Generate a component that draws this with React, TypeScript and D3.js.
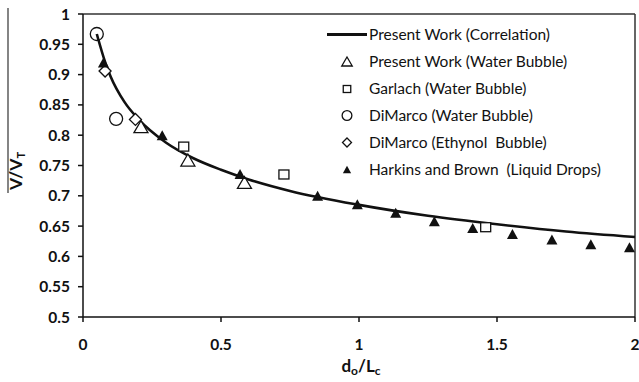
import React from "react";
import * as d3 from "d3";

// Correlation curve, V/VT against do/Lc
const correlationX = [0.05, 0.08, 0.1, 0.15, 0.2, 0.3, 0.4, 0.5, 0.6, 0.75, 1.0, 1.25, 1.5, 1.75, 2.0];
const correlationY = [0.967, 0.921, 0.897, 0.855, 0.827, 0.788, 0.762, 0.743, 0.727, 0.708, 0.685, 0.667, 0.653, 0.641, 0.632];

// Present Work (Water Bubble)
const presentX = [0.21, 0.38, 0.585];
const presentY = [0.814, 0.759, 0.722];

// Garlach (Water Bubble)
const garlachX = [0.365, 0.728, 1.459];
const garlachY = [0.782, 0.736, 0.649];

// DiMarco (Water Bubble)
const dimarcoWaterX = [0.05, 0.12];
const dimarcoWaterY = [0.967, 0.827];

// DiMarco (Ethynol Bubble)
const dimarcoEthX = [0.08, 0.19];
const dimarcoEthY = [0.906, 0.826];

// Harkins and Brown (Liquid Drops)
const harkinsX = [0.074, 0.287, 0.569, 0.85, 0.994, 1.133, 1.273, 1.412, 1.556, 1.699, 1.84, 1.98];
const harkinsY = [0.92, 0.8, 0.736, 0.7, 0.686, 0.672, 0.658, 0.647, 0.637, 0.628, 0.62, 0.615];

const xTicks = [0, 0.5, 1, 1.5, 2];
const yTicks = [0.5, 0.55, 0.6, 0.65, 0.7, 0.75, 0.8, 0.85, 0.9, 0.95, 1];

const legendLabels = [
  "Present Work (Correlation)",
  "Present Work (Water Bubble)",
  "Garlach (Water Bubble)",
  "DiMarco (Water Bubble)",
  "DiMarco (Ethynol  Bubble)",
  "Harkins and Brown  (Liquid Drops)",
];

const W = 639;
const H = 382;
const left = 83;
const right = 635;
const top = 14;
const bottom = 317;

const FONT = "Lato, 'Open Sans', sans-serif";
const INK = "#111";

type Kind = "tri" | "square" | "circle" | "diamond" | "filledTri";

function Marker({ kind, x, y, s = 1 }: { kind: Kind; x: number; y: number; s?: number }) {
  const sw = 1.3;
  switch (kind) {
    case "tri": {
      const w = 7 * s, h = 12 * s;
      return (
        <path
          d={`M${x},${y - h / 2}L${x + w},${y + h / 2}L${x - w},${y + h / 2}Z`}
          fill="#fff"
          stroke={INK}
          strokeWidth={sw}
        />
      );
    }
    case "filledTri": {
      const w = 5.5 * s, h = 10 * s;
      return <path d={`M${x},${y - h / 2}L${x + w},${y + h / 2}L${x - w},${y + h / 2}Z`} fill={INK} />;
    }
    case "square": {
      const a = 5 * s;
      return <rect x={x - a} y={y - a * 0.8} width={a * 2} height={a * 1.6 + 1} fill="#fff" stroke={INK} strokeWidth={sw} />;
    }
    case "circle":
      return <circle cx={x} cy={y} r={6.5 * s} fill="none" stroke={INK} strokeWidth={sw} />;
    case "diamond": {
      const a = 6 * s;
      return (
        <path d={`M${x},${y - a}L${x + a},${y}L${x},${y + a}L${x - a},${y}Z`} fill="#fff" stroke={INK} strokeWidth={sw} />
      );
    }
  }
}

export default function App() {
  const x = d3.scaleLinear().domain([0, 2]).range([left, right]);
  const y = d3.scaleLinear().domain([0.5, 1]).range([bottom, top]);

  const line = d3
    .line<number>()
    .x((_, i) => x(correlationX[i]))
    .y((d) => y(d))
    .curve(d3.curveMonotoneX);

  const series: { kind: Kind; xs: number[]; ys: number[] }[] = [
    { kind: "tri", xs: presentX, ys: presentY },
    { kind: "square", xs: garlachX, ys: garlachY },
    { kind: "diamond", xs: dimarcoEthX, ys: dimarcoEthY },
    { kind: "circle", xs: dimarcoWaterX, ys: dimarcoWaterY },
    { kind: "filledTri", xs: harkinsX, ys: harkinsY },
  ];

  const legendKinds: (Kind | "line")[] = ["line", "tri", "square", "circle", "diamond", "filledTri"];
  const legendY0 = 34.5;
  const legendStep = 27;

  return (
    <svg width={W} height={H} style={{ position: "absolute", left: 0, top: 0, background: "#fff" }}>
      <rect width={W} height={H} fill="#fff" />
      {/* plot frame */}
      <line x1={left} x2={right} y1={top} y2={top} stroke="#333" strokeWidth={1.5} />
      <line x1={right} x2={right} y1={top} y2={bottom} stroke="#333" strokeWidth={1.5} />
      <line x1={left} x2={left} y1={top} y2={bottom} stroke={INK} strokeWidth={1.5} />
      <line x1={left} x2={right} y1={bottom} y2={bottom} stroke={INK} strokeWidth={1.5} />

      {/* y ticks */}
      {yTicks.map((t) => (
        <g key={"y" + t}>
          <line x1={left - 5} x2={left} y1={y(t)} y2={y(t)} stroke={INK} strokeWidth={1.5} />
          <text
            x={70}
            y={y(t)}
            dy="0.36em"
            textAnchor="end"
            fontFamily={FONT}
            fontWeight="bold"
            fontSize={15.5}
            fill={INK}
          >
            {t}
          </text>
        </g>
      ))}

      {/* x ticks */}
      {xTicks.map((t) => (
        <g key={"x" + t}>
          <line x1={x(t)} x2={x(t)} y1={bottom} y2={bottom + 5} stroke={INK} strokeWidth={1.5} />
          <text x={x(t)} y={350} textAnchor="middle" fontFamily={FONT} fontWeight="bold" fontSize={15.5} fill={INK}>
            {t}
          </text>
        </g>
      ))}

      {/* axis titles */}
      <text x={361} y={372} textAnchor="middle" fontFamily={FONT} fontWeight="bold" fontSize={17} fill={INK}>
        d<tspan fontSize={12} dy={3}>o</tspan>
        <tspan dy={-3}>/L</tspan>
        <tspan fontSize={12} dy={3}>c</tspan>
      </text>
      <line x1={8} x2={8} y1={8} y2={193} stroke="#333" strokeWidth={1.2} />
      <text
        transform="translate(22,190) rotate(-90)"
        fontFamily={FONT}
        fontWeight="bold"
        fontSize={17.5}
        fill={INK}
      >
        V/V<tspan fontSize={11} dy={3}>T</tspan>
      </text>

      {/* correlation curve */}
      <path d={line(correlationY) ?? ""} fill="none" stroke={INK} strokeWidth={2.6} />

      {/* data markers */}
      {series.map((s) =>
        s.xs.map((xv, i) => <Marker key={s.kind + i} kind={s.kind} x={x(xv)} y={y(s.ys[i])} />)
      )}

      {/* legend */}
      {legendKinds.map((k, i) => {
        const ly = legendY0 + i * legendStep;
        return (
          <g key={"lg" + i}>
            {k === "line" ? (
              <line x1={327} x2={367} y1={ly} y2={ly} stroke={INK} strokeWidth={3} />
            ) : (
              <Marker kind={k} x={347} y={ly} s={0.75} />
            )}
            <text
              x={369}
              y={ly}
              dy="0.36em"
              fontFamily={FONT}
              fontSize={15.5}
              fill={INK}
              style={{ whiteSpace: "pre" }}
            >
              {legendLabels[i]}
            </text>
          </g>
        );
      })}
    </svg>
  );
}
